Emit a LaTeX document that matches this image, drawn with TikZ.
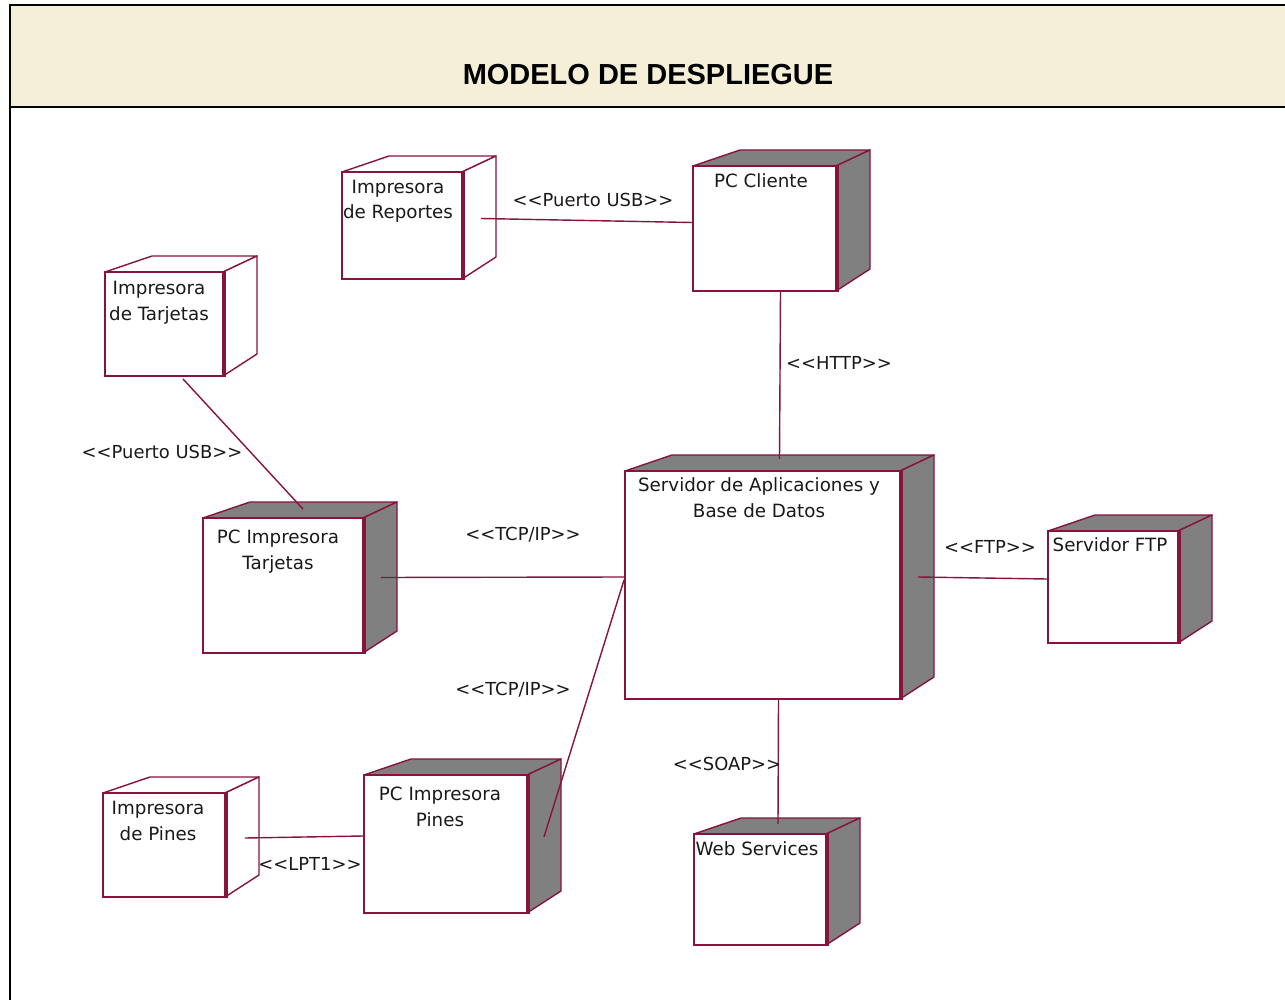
\documentclass[tikz,border=0pt]{standalone}
\usepackage{fontspec}
\setmainfont[Ligatures=TeXOff]{DejaVu Sans}
\newfontfamily\titlefont{Liberation Sans}
\usetikzlibrary{calc,fit}

\definecolor{umlline}{RGB}{135,20,60}
\definecolor{procgray}{RGB}{128,128,128}
\definecolor{headfill}{RGB}{245,239,216}
\definecolor{inktext}{RGB}{25,25,25}

\tikzset{
  edgeface/.style={draw=umlline, line width=0.8pt, line join=round},
  frontface/.style={draw=umlline, line width=1.1pt, fill=white, inner sep=0pt, rectangle},
  frontedge/.style={draw=umlline, line width=2pt},
  conn/.style={draw=umlline, line width=0.8pt},
  nodetext/.style={font=\fontsize{10.4}{14.5}\selectfont, text=inktext, align=center, anchor=base, inner sep=0pt},
  stereo/.style={font=\fontsize{10.2}{12}\selectfont, text=inktext, anchor=base, inner sep=0pt},
  frameline/.style={draw=black, line width=1.7pt},
}

% UML deployment node: name, left, top, right, bottom (front face), fill of top/side faces
\newcommand\depnode[6]{%
  \filldraw[edgeface, fill=#6] (#2,#3) -- ({#2+47},{#3-16}) -- ({#4+34},{#3-16}) -- (#4,#3) -- cycle;
  \filldraw[edgeface, fill=#6] (#4,#3) -- ({#4+34},{#3-16}) -- ({#4+34},{#5-22}) -- (#4,#5) -- cycle;
  \node[frontface, fit={(#2,#3) (#4,#5)}] (#1) {};
  \draw[frontedge] (#1.north east) -- (#1.south east);
}

\begin{document}
\begin{tikzpicture}[x=0.02cm, y=-0.02cm]
\useasboundingbox (0,0) rectangle (1285,1000);
\clip (0,0) rectangle (1285,1000);
\fill[white] (0,0) rectangle (1285,1000);

% header band and frame
\fill[headfill] (10,5) rectangle (1300,107);
\draw[frameline] (10,1010) -- (10,5) -- (1300,5);
\draw[frameline] (10,107) -- (1300,107);
\node[font={\titlefont\fontsize{16.5}{20}\selectfont\bfseries}, anchor=base, inner sep=0pt] (title) at (648,85) {MODELO DE DESPLIEGUE};

% nodes
\depnode{rep}{342}{172}{462}{279}{white}
\depnode{cli}{693}{166}{836}{291}{procgray}
\depnode{itj}{105}{272}{223}{376}{white}
\depnode{pct}{203}{518}{363}{653}{procgray}
\depnode{srv}{625}{471}{900}{699}{procgray}
\depnode{ftp}{1048}{531}{1178}{643}{procgray}
\depnode{web}{694}{834}{826}{945}{procgray}
\depnode{ipn}{103}{793}{225}{897}{white}
\depnode{pcp}{364}{775}{527}{913}{procgray}

% node names (base anchor sits on the last line)
\node[nodetext] (rep-t) at (398,219) {Impresora\\de Reportes};
\node[nodetext] (cli-t) at (761,188) {PC Cliente};
\node[nodetext] (itj-t) at (159,320) {Impresora\\de Tarjetas};
\node[nodetext] (pct-t) at (278,569) {PC Impresora\\Tarjetas};
\node[nodetext] (srv-t) at (759,517) {Servidor de Aplicaciones y\\Base de Datos};
\node[nodetext] (ftp-t) at (1110,551) {Servidor FTP};
\node[nodetext] (web-t) at (757,855) {Web Services};
\node[nodetext] (ipn-t) at (158,840) {Impresora\\de Pines};
\node[nodetext] (pcp-t) at (440,826) {PC Impresora\\Pines};

% connections
\draw[conn] ($(rep.east)+(18,-7)$) -- ($(cli.west)+(0,-6)$);
\draw[conn] ($(cli.south)+(16,0)$) -- ($(srv.north)+(17,-11)$);
\draw[conn] ($(itj.south)+(19,2)$) -- ($(pct.north)+(20,-8)$);
\draw[conn] ($(pct.east)+(17,-8)$) -- ($(srv.west)+(0,-8)$);
\draw[conn] ($(pcp.east)+(16,-7)$) -- ($(srv.west)+(0,-5)$);
\draw[conn] ($(srv.east)+(17,-8)$) -- ($(ftp.west)+(0,-8)$);
\draw[conn] ($(srv.south)+(16,0)$) -- ($(web.north)+(18,-9)$);
\draw[conn] ($(ipn.east)+(19,-7)$) -- ($(pcp.west)+(0,-8)$);

% stereotypes
\node[stereo] (l-usb1) at (593,207) {<<Puerto USB>>};
\node[stereo] (l-http) at (839,369) {<<HTTP>>};
\node[stereo] (l-usb2) at (162,458) {<<Puerto USB>>};
\node[stereo] (l-tcp1) at (523,540) {<<TCP/IP>>};
\node[stereo] (l-tcp2) at (513,695) {<<TCP/IP>>};
\node[stereo] (l-ftp)  at (990,553) {<<FTP>>};
\node[stereo] (l-soap) at (727,770) {<<SOAP>>};
\node[stereo] (l-lpt)  at (310,870) {<<LPT1>>};
\end{tikzpicture}
\end{document}
